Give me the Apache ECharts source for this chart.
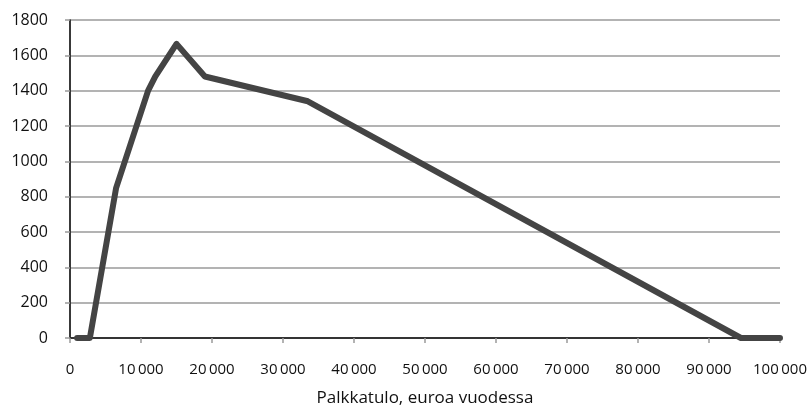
<!DOCTYPE html>
<html>
<head>
<meta charset="utf-8">
<script src="https://cdn.jsdelivr.net/npm/echarts@6/dist/echarts.min.js"></script>
<style>
  html, body { margin: 0; padding: 0; background: #fff; }
  #chart { width: 808px; height: 409px; }
</style>
</head>
<body>
<div id="chart"></div>
<script>
// income (euros/year) and value
const incomes = [1000, 2800, 6500, 11000, 12000, 15000, 19000, 33500, 94500, 100000];
const values  = [0,    0,    850,  1400,  1480,  1665,  1480,  1340,  0,     0];
const xTicks = [0, 10000, 20000, 30000, 40000, 50000, 60000, 70000, 80000, 90000, 100000];
const yTicks = [0, 200, 400, 600, 800, 1000, 1200, 1400, 1600, 1800];
const xTitle = 'Palkkatulo, euroa vuodessa';

const chart = echarts.init(document.getElementById('chart'));
const font = 'Open Sans';
const gridGrey = '#9a9a9a';

// narrow-space thousands separator like the original
const fmt = v => v >= 1000 ? Math.floor(v / 1000) + '\u2009' + String(v % 1000).padStart(3, '0') : String(v);

const option = {
  animation: false,
  textStyle: { fontFamily: font },
  grid: { left: 70, right: 28, top: 20, bottom: 71, outerBoundsMode: 'none', containLabel: false },
  xAxis: [{
    type: 'value',
    min: xTicks[0],
    max: xTicks[xTicks.length - 1],
    interval: 10000,
    name: xTitle,
    nameLocation: 'middle',
    nameGap: 52,
    nameTextStyle: { color: '#111', fontSize: 17, fontFamily: font },
    axisLine: { lineStyle: { color: gridGrey, width: 1.5 } },
    axisTick: { show: true, length: 5, lineStyle: { color: gridGrey, width: 1.5 } },
    axisLabel: { color: '#111', fontSize: 15, margin: 24, formatter: fmt },
    splitLine: { show: false }
  }, {
    type: 'value',
    position: 'top',
    min: xTicks[0],
    max: xTicks[xTicks.length - 1],
    axisLine: { lineStyle: { color: '#111', width: 1.5 } },
    axisTick: { show: false },
    axisLabel: { show: false },
    splitLine: { show: false }
  }],
  yAxis: [{
    type: 'value',
    min: yTicks[0],
    max: yTicks[yTicks.length - 1],
    interval: 200,
    axisLine: { show: true, lineStyle: { color: gridGrey, width: 1.5 } },
    axisTick: { show: true, length: 5, lineStyle: { color: gridGrey, width: 1.5 } },
    axisLabel: { color: '#111', fontSize: 16, margin: 22, formatter: v => String(v) },
    splitLine: { show: true, lineStyle: { color: gridGrey, width: 1.5 } }
  }, {
    type: 'value',
    position: 'right',
    min: yTicks[0],
    max: yTicks[yTicks.length - 1],
    axisLine: { show: true, lineStyle: { color: '#111', width: 1.5 } },
    axisTick: { show: false },
    axisLabel: { show: false },
    splitLine: { show: false }
  }],
  series: [{
    type: 'line',
    data: incomes.map((x, i) => [x, values[i]]),
    symbol: 'none',
    lineStyle: { color: '#444', width: 6, cap: 'round', join: 'round' }
  }]
};

chart.setOption(option);
</script>
</body>
</html>
